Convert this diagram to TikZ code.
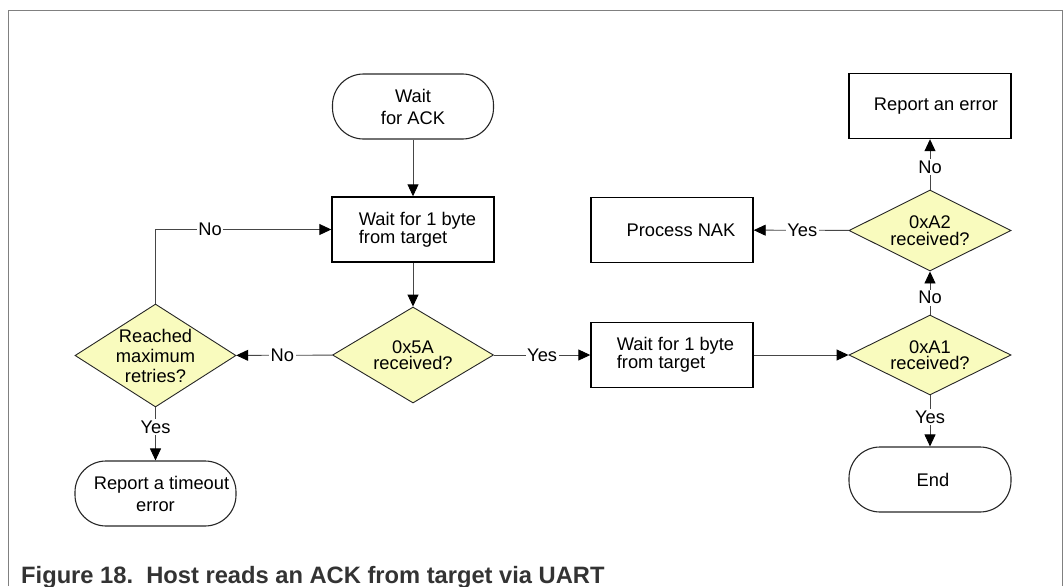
\documentclass[tikz,border=0pt]{standalone}
\usepackage{fontspec}
\setmainfont{Liberation Sans}
\usetikzlibrary{shapes.geometric,arrows.meta}
\definecolor{dyellow}{RGB}{249,251,190}
\definecolor{framegray}{RGB}{128,128,128}
\definecolor{capgray}{RGB}{51,51,51}
\definecolor{linegray}{RGB}{70,70,70}
\tikzset{
  nfont/.style={font=\fontsize{18.3}{17.6}\selectfont},
  procbox/.style={draw=black, line width=1.4pt, minimum width=162pt, minimum height=65pt, inner sep=0pt, nfont, align=left},
  termbox/.style={draw=black!85, line width=1.1pt, rounded corners=31pt, minimum width=161pt, minimum height=65pt, inner sep=0pt, font=\fontsize{18.3}{22}\selectfont, align=center},
  decbox/.style={diamond, draw=black!85, line width=0.9pt, fill=dyellow, inner sep=0pt},
  dectext/.style={font=\fontsize{18.3}{16.5}\selectfont, align=center, inner sep=0pt},
  flow/.style={draw=linegray, line width=0.9pt, -{Triangle[length=12pt,width=11pt,color=black]}},
  lbl/.style={fill=white, nfont, inner sep=1.5pt}
}
\begin{document}
\begin{tikzpicture}[x=1pt,y=-1pt]
\useasboundingbox (0,0) rectangle (1064,586);
% frame
\draw[framegray, line width=1pt] (8,586) -- (8,11) -- (1062,11) -- (1062,586);

% shapes
\node[termbox] (wack) at (413,106.5) {Wait\\for ACK};
\node[procbox] (box1) at (413,229.5) {\hspace*{9pt}Wait for 1 byte\\\hspace*{9pt}from target};
\node[decbox, minimum width=161pt, minimum height=96pt] (d5A) at (413,355) {};
\node[dectext] (t5A) at (d5A.center) {0x5A\\received?};
\node[decbox, minimum width=161pt, minimum height=103pt] (dMax) at (155.5,355.5) {};
\node[font=\fontsize{18.3}{20}\selectfont, align=center, inner sep=0pt] (tMax) at (dMax.center) {Reached\\maximum\\retries?};
\node[termbox] (tout) at (155.5,493.5) {\hspace*{12pt}Report a timeout\\error};
\node[procbox] (box2) at (672,355) {\hspace*{7pt}Wait for 1 byte\\\hspace*{7pt}from target};
\node[decbox, minimum width=162pt, minimum height=80pt] (dA1) at (930,355) {};
\node[dectext] (tA1) at (dA1.center) {0xA1\\received?};
\node[termbox, minimum width=162pt] (endn) at (930,479.5) {\hspace*{6pt}End};
\node[decbox, minimum width=162pt, minimum height=81pt] (dA2) at (930,230.5) {};
\node[dectext] (tA2) at (dA2.center) {0xA2\\received?};
\node[procbox] (rerr) at (930,106) {\hspace*{12pt}Report an error};
\node[procbox] (nak) at (672,230) {\hspace*{18pt}Process NAK};

% connectors
\draw[flow] (wack) -- (box1);
\draw[flow] (box1) -- (d5A);
\draw[flow] (d5A) -- node[lbl, pos=0.52] (lNo1) {No} (dMax);
\draw[flow] (d5A) -- node[lbl, pos=0.5] (lYes1) {Yes} (box2);
\draw[flow] (box2) -- (dA1);
\draw[flow] (dA1) -- node[lbl, pos=0.42] (lYes2) {Yes} (endn);
\draw[flow] (dA1) -- node[lbl, pos=0.39] (lNo2) {No} (dA2);
\draw[flow] (dA2) -- node[lbl, pos=0.45] (lNo3) {No} (rerr);
\draw[flow] (dA2) -- node[lbl, pos=0.49] (lYes3) {Yes} (nak);
\draw[flow] (dMax.north) |- node[lbl, pos=0.655] (lNo4) {No} (box1.west);
\draw[flow] (dMax) -- node[lbl, pos=0.37] (lYes4) {Yes} (tout);

% caption
\node[anchor=base west, font=\bfseries\fontsize{23.7}{28}\selectfont, text=capgray, inner sep=0pt] (cap) at (21,583) {Figure 18.~\ Host reads an ACK from target via UART};
\end{tikzpicture}
\end{document}
